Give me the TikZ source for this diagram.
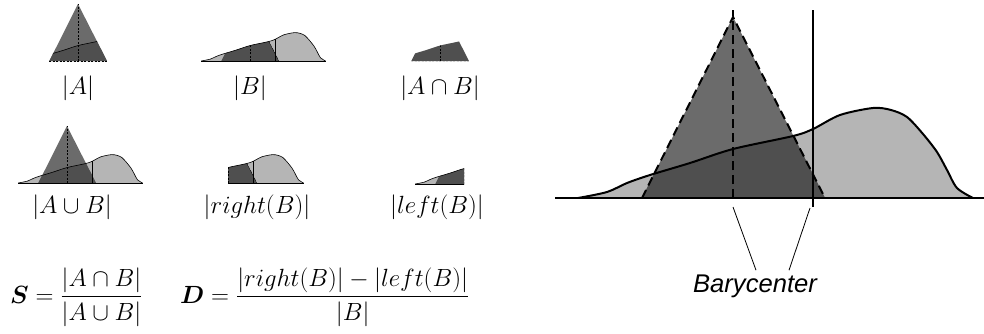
\documentclass[tikz,border=0pt]{standalone}
\usepackage{amsmath, amssymb}
\usepackage{fontspec}
\newfontfamily\barfont{Liberation Sans}
\usepackage{tikz}

\definecolor{lgt}{gray}{0.71}
\definecolor{mid}{gray}{0.42}
\definecolor{drk}{gray}{0.31}

\tikzset{
  bfill/.style={fill=lgt},
  afill/.style={fill=mid},
  abfill/.style={fill=drk},
  bigline/.style={line width=2pt},
  bigdash/.style={line width=2pt, dash pattern=on 9pt off 5pt},
  miniline/.style={line width=0.6pt},
  minidash/.style={line width=0.6pt, dash pattern=on 2pt off 1.5pt},
  mini/.style={x=0.315pt, y=0.315pt},
  lbl/.style={font=\Huge, inner sep=2pt},
  pointer/.style={line width=0.8pt},
  bclabel/.style={font={\barfont\itshape\fontsize{25.6pt}{30pt}\selectfont}, inner sep=4pt}
}

% shapes A (triangle) and B (curve), foot of A at the origin
\newcommand{\triA}{(-91,0) -- (0,181) -- (92,0) -- cycle}
\newcommand{\crvB}{plot[smooth] coordinates {(-155,0) (-126,6) (-106,15) (-83,23) (-43,35) (0,49) (60,62) (80,69) (107,83) (140,90) (158,88) (174,81) (190,64) (204,46) (214,28) (224,10) (240,0)}}
% B with its part under A
\newcommand{\regionB}{
  \fill[bfill] \crvB -- cycle;
  \begin{scope}
    \clip \crvB -- cycle;
    \clip \triA;
    \fill[abfill] \crvB -- cycle;
    \draw[minidash] (0,0) -- (0,181) (-91,0) -- (92,0);
    \draw[miniline] (92,0) -- (0,181);
  \end{scope}
  \draw[miniline] \crvB;
  \draw[miniline] (80,0) -- (80,69);
  \draw[miniline] (-155,0) -- (240,0);
}

\begin{document}
\begin{tikzpicture}[x=1pt, y=-1pt]
\useasboundingbox (0,0) rectangle (984,333);

% |A|
\begin{scope}[shift={(78,61)}, mini]
  \fill[afill] \triA;
  \begin{scope}
    \clip \triA;
    \fill[abfill] \crvB -- cycle;
    \draw[miniline] \crvB;
  \end{scope}
  \draw[minidash] (0,0) -- (0,181) (-91,0) -- (92,0);
\end{scope}
% |B|
\begin{scope}[shift={(250,61)}, mini]
  \regionB
\end{scope}
% |A cap B|
\begin{scope}[shift={(440,61)}, mini]
  \clip \crvB -- cycle;
  \clip \triA;
  \fill[abfill] \crvB -- cycle;
  \draw[minidash] (0,0) -- (0,181) (-91,0) -- (92,0);
\end{scope}
% |A cup B|
\begin{scope}[shift={(67,183)}, mini]
  \fill[bfill] \crvB -- cycle;
  \fill[afill] \triA;
  \begin{scope}
    \clip \triA;
    \fill[abfill] \crvB -- cycle;
  \end{scope}
  \draw[miniline] \crvB;
  \draw[minidash] (0,0) -- (0,181);
  \draw[miniline] (80,0) -- (80,69);
  \draw[miniline] (-155,0) -- (240,0);
\end{scope}
% |right(B)|
\begin{scope}[shift={(228,183)}, mini]
  \clip (0,-5) rectangle (260,120);
  \regionB
\end{scope}
% |left(B)|
\begin{scope}[shift={(464,184)}, mini]
  \clip (-170,-5) rectangle (0,120);
  \regionB
\end{scope}

\node[lbl] (nA) at (78,88) {$|A|$};
\node[lbl] (nB) at (250,88) {$|B|$};
\node[lbl] (nAB) at (440,88) {$|A\cap B|$};
\node[lbl] (nAuB) at (72,207) {$|A\cup B|$};
\node[lbl] (nR) at (257,207) {$|right(B)|$};
\node[lbl] (nL) at (437,207) {$|left(B)|$};

\node[lbl, anchor=west] (fS) at (8,297) {$\boldsymbol{S}=\dfrac{|A\cap B|}{|A\cup B|}$};
\node[lbl, anchor=west] (fD) at (178,297) {$\boldsymbol{D}=\dfrac{|right(B)|-|left(B)|}{|B|}$};

% big picture
\begin{scope}[shift={(733,198)}, y=1pt]
  \fill[bfill] \crvB -- cycle;
  \fill[afill] \triA;
  \begin{scope}
    \clip \triA;
    \fill[abfill] \crvB -- cycle;
  \end{scope}
  \draw[bigline] \crvB;
  \draw[bigdash] (-91,0) -- (0,181) -- (92,0);
  \draw[bigdash] (0,0) -- (0,188);
  \draw[bigline] (80,-9) -- (80,188);
  \draw[bigline] (-178,0) -- (251,0);
  \coordinate (ga) at (0,-9);
  \coordinate (gb) at (77,-10);
\end{scope}

\node[bclabel, anchor=base] (bc) at (755,292) {Barycenter};
\draw[pointer] (ga) -- ([xshift=1pt]bc.north);
\draw[pointer] (gb) -- ([xshift=34pt]bc.north);
\end{tikzpicture}
\end{document}
